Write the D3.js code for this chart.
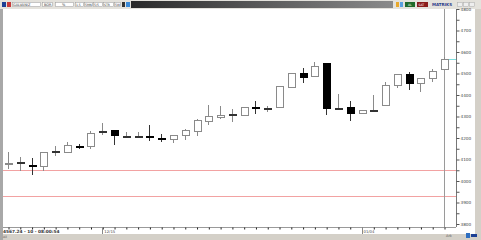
<!DOCTYPE html>
<html>
<head>
<meta charset="utf-8">
<script src="https://cdn.jsdelivr.net/npm/d3@7"></script>
<style>
  body { margin: 0; background: #d4d0c8; }
  svg { display: block; }
  text { font-family: "DejaVu Sans", sans-serif; }
</style>
</head>
<body>
<svg id="chart" width="481" height="240"></svg>
<script>
// candle data (index 0 = leftmost bar)
const opens  = [4082, 4088, 4076, 4070, 4140, 4135, 4165, 4163, 4233, 4237,
                4209, 4209, 4211, 4202, 4195, 4214, 4233, 4279, 4298, 4312,
                4307, 4342, 4340, 4344, 4437, 4502, 4488, 4549, 4340, 4344,
                4316, 4330, 4353, 4447, 4498, 4456, 4479, 4521];
const highs  = [4135, 4112, 4107, 4135, 4163, 4181, 4172, 4233, 4270, 4237,
                4228, 4228, 4260, 4219, 4214, 4242, 4288, 4353, 4349, 4335,
                4344, 4372, 4349, 4442, 4502, 4526, 4553, 4549, 4405, 4372,
                4330, 4400, 4460, 4498, 4507, 4479, 4521, 4577];
const lows   = [4056, 4047, 4028, 4047, 4116, 4135, 4149, 4149, 4214, 4167,
                4200, 4200, 4186, 4181, 4177, 4191, 4209, 4260, 4288, 4274,
                4302, 4312, 4321, 4344, 4437, 4456, 4488, 4307, 4330, 4279,
                4312, 4321, 4349, 4433, 4423, 4414, 4460, 4521];
const closes = [4086, 4088, 4072, 4135, 4140, 4167, 4161, 4223, 4233, 4214,
                4209, 4209, 4207, 4198, 4214, 4237, 4284, 4302, 4307, 4312,
                4344, 4338, 4340, 4442, 4502, 4484, 4535, 4340, 4340, 4316,
                4330, 4330, 4447, 4498, 4456, 4479, 4512, 4567.24];
const bars = opens.map((o, i) => i);

// date labels on the time axis (bar index -> text)
const dateLabels = [{ bar: 8, text: '12/15' }, { bar: 30, text: '01/04' }];

// horizontal alert lines
const levels = [4052, 3930];

const priceTicks = [3800, 3850, 3900, 3950, 4000, 4050, 4100, 4150, 4200, 4250, 4300,
                    4350, 4400, 4450, 4500, 4550, 4600, 4650, 4700, 4750, 4800];
const statusText = '4567.24 - 10 - 08:00:54';

const svg = d3.select('#chart');
const W = 481, H = 240;
const plot = { left: 3, right: 456, top: 9, bottom: 227 };

const x = d3.scalePoint().domain(bars).range([8, 444]);
const y = d3.scaleLinear().domain([3800, 4800]).range([224, 9]);
const bodyW = Math.round(x.step() * 0.6);
const px = v => Math.round(v) + 0.5;

// window frame
svg.append('rect').attr('width', W).attr('height', H).attr('fill', '#d4d0c8');
svg.append('rect').attr('x', 0).attr('y', 0).attr('width', 3).attr('height', H).attr('fill', '#a8a8a8');
svg.append('rect').attr('x', plot.left).attr('y', plot.top)
  .attr('width', 475 - plot.left).attr('height', 234 - plot.top).attr('fill', '#fff');

// toolbar
const tb = svg.append('g');
tb.append('rect').attr('x', 0).attr('y', 0).attr('width', W).attr('height', 9).attr('fill', '#e4e2dc');
const grad = svg.append('defs').append('linearGradient').attr('id', 'bar-grad');
grad.append('stop').attr('offset', '0%').attr('stop-color', '#2a2a2a');
grad.append('stop').attr('offset', '100%').attr('stop-color', '#8a8a8a');
tb.append('rect').attr('x', 131).attr('y', 1).attr('width', 262).attr('height', 7).attr('fill', 'url(#bar-grad)');
tb.append('rect').attr('x', 2).attr('y', 2).attr('width', 4).attr('height', 5).attr('fill', '#1c3f94');
tb.append('rect').attr('x', 7).attr('y', 2).attr('width', 4).attr('height', 5).attr('fill', '#c83a3a');
[[12, 28], [42, 10], [55, 18], [75, 8], [84, 8], [93, 9], [103, 10], [114, 6]].forEach(([bx, bw]) => {
  tb.append('rect').attr('x', bx + 0.5).attr('y', 2.5).attr('width', bw).attr('height', 4)
    .attr('fill', '#fff').attr('stroke', '#9a9a9a').attr('stroke-width', 0.5);
});
tb.append('text').attr('x', 13).attr('y', 6).attr('font-size', 3.5).attr('fill', '#333').text('GALVANIZ');
tb.append('text').attr('x', 44).attr('y', 6).attr('font-size', 3.5).attr('fill', '#333').text('BOR');
tb.append('text').attr('x', 62).attr('y', 6).attr('font-size', 3.5).attr('fill', '#333').text('%');
[['1,5', 76], ['5MN', 85], ['5/5', 94], ['STR', 104], ['5W', 115]].forEach(([t, tx]) => {
  tb.append('text').attr('x', tx).attr('y', 6).attr('font-size', 3).attr('fill', '#333').text(t);
});
tb.append('rect').attr('x', 122).attr('y', 2).attr('width', 3).attr('height', 5).attr('fill', '#333');
tb.append('rect').attr('x', 126).attr('y', 2).attr('width', 4).attr('height', 5).attr('fill', '#3a8ad8');
tb.append('rect').attr('x', 396).attr('y', 2).attr('width', 3).attr('height', 5).attr('fill', '#e8a82a');
tb.append('rect').attr('x', 400).attr('y', 2).attr('width', 3).attr('height', 5).attr('fill', '#5aa0e0');
tb.append('rect').attr('x', 405).attr('y', 2).attr('width', 10).attr('height', 5).attr('fill', '#1f6a2a');
tb.append('text').attr('x', 408).attr('y', 6).attr('font-size', 3).attr('fill', '#fff').text('AL');
tb.append('rect').attr('x', 417).attr('y', 2).attr('width', 11).attr('height', 5).attr('fill', '#8a1c1c');
tb.append('text').attr('x', 418.5).attr('y', 6).attr('font-size', 3).attr('fill', '#fff').text('SAT');
tb.append('text').attr('x', 432).attr('y', 6.2).attr('font-size', 4).attr('font-weight', 'bold')
  .attr('fill', '#2a3a8a').text('MATRIKS');
[457, 463, 469].forEach(bx => {
  tb.append('rect').attr('x', bx + 0.5).attr('y', 2.5).attr('width', 5).attr('height', 4)
    .attr('fill', '#eee').attr('stroke', '#aaa').attr('stroke-width', 0.5);
});

// alert levels
svg.append('g').selectAll('line').data(levels).enter().append('line')
  .attr('x1', plot.left).attr('x2', plot.right)
  .attr('y1', d => px(y(d))).attr('y2', d => px(y(d)))
  .attr('stroke', '#f2a2a2').attr('stroke-width', 1);

// cursor line + last price marker
svg.append('line').attr('x1', px(x(bars.length - 1))).attr('x2', px(x(bars.length - 1)))
  .attr('y1', plot.top).attr('y2', plot.bottom).attr('stroke', '#9a9a9a');
svg.append('line').attr('x1', px(x(bars.length - 1))).attr('x2', plot.right)
  .attr('y1', px(y(closes[closes.length - 1]))).attr('y2', px(y(closes[closes.length - 1])))
  .attr('stroke', '#7fdede');

// candles
const candles = svg.append('g').selectAll('g').data(bars).enter().append('g');
candles.append('line')
  .attr('x1', i => px(x(i))).attr('x2', i => px(x(i)))
  .attr('y1', i => Math.round(y(highs[i]))).attr('y2', i => Math.round(y(lows[i])))
  .attr('stroke', i => closes[i] < opens[i] ? '#333' : '#8a8a8a');
candles.append('rect')
  .attr('x', i => px(x(i)) - Math.floor(bodyW / 2))
  .attr('y', i => px(y(Math.max(opens[i], closes[i]))))
  .attr('width', bodyW)
  .attr('height', i => Math.max(1, Math.round(Math.abs(y(opens[i]) - y(closes[i])))))
  .attr('fill', i => closes[i] < opens[i] ? '#000' : '#fff')
  .attr('stroke', i => closes[i] < opens[i] ? '#000' : (closes[i] === opens[i] ? '#333' : '#8a8a8a'));

// price axis
const yAxis = d3.axisRight(y).tickValues(priceTicks).tickSize(3)
  .tickFormat(d => d % 100 === 0 ? d : '');
const ya = svg.append('g').attr('transform', `translate(${plot.right + 0.5},0)`).call(yAxis);
ya.select('.domain').attr('stroke', '#777').attr('d', `M0,${plot.top}V${plot.bottom}`);
ya.selectAll('.tick line').attr('stroke', '#555');
ya.selectAll('.tick text').attr('x', 4).attr('font-size', 4.2).attr('fill', '#444')
  .attr('font-family', '"DejaVu Sans", sans-serif');

// time axis
svg.append('line').attr('x1', plot.left).attr('x2', plot.right)
  .attr('y1', plot.bottom + 0.5).attr('y2', plot.bottom + 0.5).attr('stroke', '#9a9a9a');
const xAxis = d3.axisBottom(x).tickSize(2).tickFormat('');
const xa = svg.append('g').attr('transform', `translate(0.5,${plot.bottom + 0.5})`).call(xAxis);
xa.select('.domain').remove();
xa.selectAll('.tick line').attr('stroke', '#222');
const dl = svg.append('g').selectAll('g').data(dateLabels).enter().append('g');
dl.append('line').attr('x1', d => px(x(d.bar))).attr('x2', d => px(x(d.bar)))
  .attr('y1', plot.bottom).attr('y2', plot.bottom + 7).attr('stroke', '#888');
dl.append('text').attr('x', d => x(d.bar) + 2).attr('y', plot.bottom + 6)
  .attr('font-size', 3.8).attr('fill', '#444').text(d => d.text);

// status line
svg.append('text').attr('x', 3).attr('y', plot.bottom + 6).attr('font-size', 4.3)
  .attr('font-weight', 'bold').attr('fill', '#333').text(statusText);
svg.append('text').attr('x', 3).attr('y', 238).attr('font-size', 3.2).attr('fill', '#555').text('All');
svg.append('text').attr('x', 446).attr('y', 237).attr('font-size', 3.5).attr('fill', '#555').text('Ark');
svg.append('rect').attr('x', 466).attr('y', 233).attr('width', 4).attr('height', 5).attr('fill', '#2f6fc0');
svg.append('rect').attr('x', 471).attr('y', 234).attr('width', 6).attr('height', 3).attr('fill', '#1c3f94');
</script>
</body>
</html>
